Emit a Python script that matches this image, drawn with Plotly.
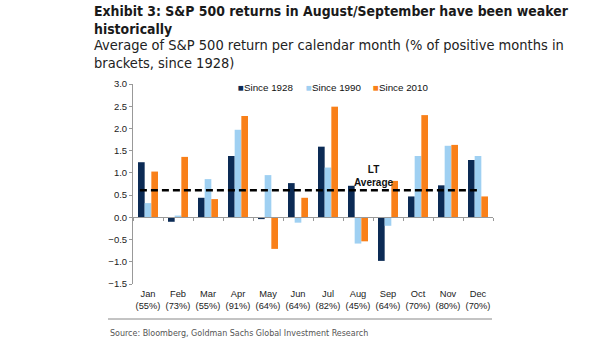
import plotly.graph_objects as go

months = ["Jan", "Feb", "Mar", "Apr", "May", "Jun", "Jul", "Aug", "Sep", "Oct", "Nov", "Dec"]
pct_positive = ["55%", "73%", "55%", "91%", "64%", "64%", "82%", "45%", "64%", "70%", "80%", "70%"]
since_1928 = [1.24, -0.10, 0.44, 1.38, -0.04, 0.77, 1.59, 0.71, -0.98, 0.47, 0.72, 1.29]
since_1990 = [0.32, 0.04, 0.86, 1.97, 0.95, -0.12, 1.12, -0.59, -0.19, 1.38, 1.61, 1.38]
since_2010 = [1.03, 1.36, 0.41, 2.28, -0.71, 0.44, 2.49, -0.54, 0.82, 2.30, 1.63, 0.47]
lt_average = 0.61
series_names = ["Since 1928", "Since 1990", "Since 2010"]
colors = ["#0C2B55", "#9FD0F2", "#F98019"]

W, H = 605, 341
L, R, T, B = 133, 112, 84, 57
PW, PH = W - L - R, H - T - B


def px(x):
    return (x - L) / PW


def py(y):
    return (H - B - y) / PH


xs = list(range(len(months)))
ticktext = [f"{m}<br>({p})" for m, p in zip(months, pct_positive)]

fig = go.Figure()
for name, vals, c in zip(series_names, [since_1928, since_1990, since_2010], colors):
    fig.add_trace(go.Bar(x=xs, y=vals, name=name, marker=dict(color=c, line=dict(width=0)),
                         showlegend=False))

# invisible trace for the zero-line axis
fig.add_trace(go.Scatter(x=[0], y=[0], xaxis="x2", mode="markers",
                         marker=dict(opacity=0), showlegend=False, hoverinfo="skip"))

fig.add_shape(type="line", xref="x", yref="y", x0=-0.27, x1=11.0, y0=lt_average, y1=lt_average,
              line=dict(color="black", width=2.6, dash="7px,4px"), layer="above")

annotations = []
font_title = "Liberation Sans Narrow, DejaVu Sans Condensed, Arial Narrow, sans-serif"
annotations.append(dict(text="<b>Exhibit 3: S&P 500 returns in August/September have been weaker</b>",
                        x=px(92), y=py(11), font=dict(family=font_title, size=13.9, color="#1a1a1a")))
annotations.append(dict(text="<b>historically</b>",
                        x=px(92), y=py(29), font=dict(family=font_title, size=13.9, color="#1a1a1a")))
annotations.append(dict(text="Average of S&P 500 return per calendar month (% of positive months in",
                        x=px(92), y=py(45), font=dict(family=font_title, size=14.5, color="#222222")))
annotations.append(dict(text="brackets, since 1928)",
                        x=px(92), y=py(63), font=dict(family=font_title, size=14.5, color="#222222")))
annotations.append(dict(text="Source: Bloomberg, Goldman Sachs Global Investment Research",
                        x=px(108), y=py(333), font=dict(family=font_title, size=8.9, color="#555555")))
for a in annotations:
    a.update(xref="paper", yref="paper", xanchor="left", yanchor="middle", showarrow=False)

# legend
leg_x = [236, 304, 371]
for name, c, lx in zip(series_names, colors, leg_x):
    annotations.append(dict(text=f"<span style='color:{c}'>■</span>{name}", x=px(lx), y=py(87),
                            xref="paper", yref="paper", xanchor="left", yanchor="middle",
                            showarrow=False, font=dict(family="Liberation Sans, Arial", size=9.8, color="#111")))

annotations.append(dict(text="<b>LT<br>Average</b>", x=7.53, y=0.93, xref="x", yref="y",
                        showarrow=False, xanchor="center", yanchor="middle",
                        font=dict(family="Liberation Sans, Arial", size=10, color="#111")))

fig.add_shape(type="line", xref="paper", yref="paper", x0=px(108), x1=px(492), y0=py(319), y1=py(319),
              line=dict(color="#888888", width=1))

fig.update_layout(
    width=W, height=H,
    margin=dict(l=L, r=R, t=T, b=B),
    paper_bgcolor="white", plot_bgcolor="white",
    barmode="group", bargap=1 / 3, bargroupgap=0,
    annotations=annotations,
    xaxis=dict(range=[-0.5, 11.5], tickvals=xs, ticktext=ticktext, showline=False, ticks="",
               showgrid=False, zeroline=False, ticklabelstandoff=3,
               tickfont=dict(family="Liberation Sans, Arial", size=9.3, color="#222")),
    xaxis2=dict(range=[-0.5, 11.5], overlaying="x", anchor="free", position=1.5 / 4.5, side="bottom",
                tickvals=[i - 0.5 for i in range(13)], ticks="outside", ticklen=3, tickcolor="#999",
                showticklabels=False, showline=True, linecolor="#999", linewidth=1, showgrid=False,
                zeroline=False),
    yaxis=dict(range=[-1.5, 3.0], dtick=0.5, tickformat=".1f", showgrid=False, zeroline=False,
               showline=True, linecolor="#999", linewidth=1, ticks="outside", ticklen=3, tickcolor="#999",
               tickfont=dict(family="Liberation Sans, Arial", size=9.5, color="#222")),
)

fig.write_html("out.html")
